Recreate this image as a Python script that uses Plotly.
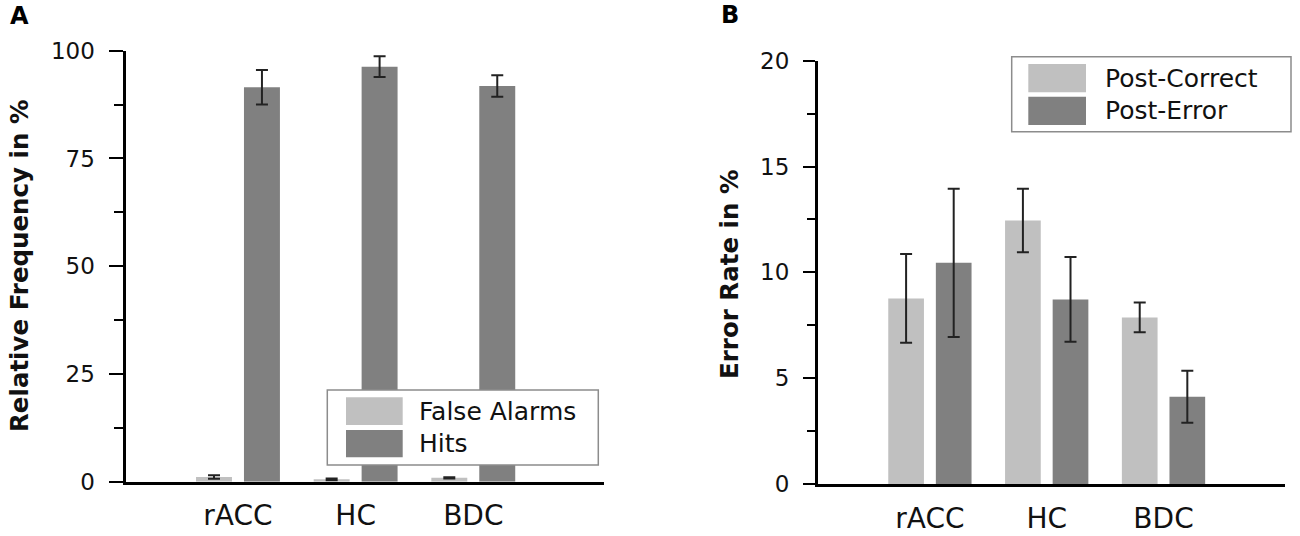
import plotly.graph_objects as go

W, H = 1300, 536

# ---------------- data ----------------
categories = ["rACC", "HC", "BDC"]

# Panel A
false_alarms = [1.1, 0.55, 0.9]
false_alarms_err = [0.4, 0.2, 0.15]
hits = [91.5, 96.3, 91.8]
hits_err = [4.0, 2.4, 2.5]
a_yticks = [0, 25, 50, 75, 100]

# Panel B
post_correct = [8.77, 12.45, 7.87]
post_correct_err = [2.1, 1.5, 0.7]
post_error = [10.45, 8.72, 4.12]
post_error_err = [3.5, 2.0, 1.23]
b_yticks = [0, 5, 10, 15, 20]

LIGHT = "#c0c0c0"
DARK = "#808080"
INK = "#111111"
FONT = "DejaVu Sans"


def px(x):
    return x / W


def py(y):
    return 1 - y / H


def err(arr):
    return dict(type="data", array=arr, color="#222222", thickness=2, width=6)


fig = go.Figure()

fig.add_trace(go.Bar(x=categories, y=false_alarms, error_y=err(false_alarms_err),
                     marker=dict(color=LIGHT, line=dict(width=0)), name="False Alarms",
                     xaxis="x", yaxis="y", showlegend=False))
fig.add_trace(go.Bar(x=categories, y=hits, error_y=err(hits_err),
                     marker=dict(color=DARK, line=dict(width=0)), name="Hits",
                     xaxis="x", yaxis="y", showlegend=False))
fig.add_trace(go.Bar(x=categories, y=post_correct, error_y=err(post_correct_err),
                     marker=dict(color=LIGHT, line=dict(width=0)), name="Post-Correct",
                     xaxis="x2", yaxis="y2", showlegend=False))
fig.add_trace(go.Bar(x=categories, y=post_error, error_y=err(post_error_err),
                     marker=dict(color=DARK, line=dict(width=0)), name="Post-Error",
                     xaxis="x2", yaxis="y2", showlegend=False))

xcommon = dict(type="category", showgrid=False, zeroline=False, showline=True,
               linecolor="black", linewidth=3, ticks="", ticklabelstandoff=7,
               tickfont=dict(family=FONT, size=28, color=INK), fixedrange=True)

ycommon = dict(showgrid=False, zeroline=False, showline=True, linecolor="black",
               linewidth=3, ticks="outside", tickwidth=2, tickcolor="black",
               tickfont=dict(family=FONT, size=23, color=INK), ticklabelstandoff=9,
               fixedrange=True)

fig.update_layout(
    width=W, height=H,
    margin=dict(l=0, r=0, t=0, b=0, autoexpand=False),
    paper_bgcolor="white", plot_bgcolor="white",
    barmode="group", bargap=0.185, bargroupgap=0.25,
    showlegend=False,
    xaxis=dict(domain=[px(125.5), px(604)], range=[-0.956, 3.111], anchor="y", **xcommon),
    yaxis=dict(domain=[py(481.7), py(50.7)], range=[0, 100], anchor="x",
               tickvals=a_yticks, ticklen=14,
               minor=dict(dtick=12.5, ticklen=9, tickwidth=2, tickcolor="black", ticks="outside"),
               **ycommon),
    xaxis2=dict(domain=[px(818), px(1285)], range=[-0.958, 3.04], anchor="y2", **xcommon),
    yaxis2=dict(domain=[py(484), py(60.7)], range=[0, 20], anchor="x2",
                tickvals=b_yticks, ticklen=12,
                minor=dict(dtick=2.5, ticklen=8, tickwidth=2, tickcolor="black", ticks="outside"),
                **ycommon),
)

shapes = []
annotations = []


def legend(box, swatches, labels, colors, text_x):
    x0, x1, y0, y1 = box
    shapes.append(dict(type="rect", xref="paper", yref="paper", layer="above",
                       x0=px(x0), x1=px(x1), y0=py(y1), y1=py(y0),
                       fillcolor="white", line=dict(color="#8c8c8c", width=1.5)))
    for (sx0, sx1, sy0, sy1), lab, col in zip(swatches, labels, colors):
        shapes.append(dict(type="rect", xref="paper", yref="paper", layer="above",
                           x0=px(sx0), x1=px(sx1), y0=py(sy1), y1=py(sy0),
                           fillcolor=col, line=dict(width=0)))
        annotations.append(dict(xref="paper", yref="paper", x=px(text_x), y=py((sy0 + sy1) / 2),
                                text=lab, showarrow=False, xanchor="left", yanchor="middle",
                                font=dict(family=FONT, size=25, color=INK)))


legend((327.3, 598.3, 390, 465),
       [(346, 402.7, 397.3, 425), (346, 402.7, 430, 457.3)],
       ["False Alarms", "Hits"], [LIGHT, DARK], 417)
legend((1011.7, 1291, 56.7, 131.7),
       [(1028.3, 1086, 64, 92.3), (1028.3, 1086, 96.7, 125)],
       ["Post-Correct", "Post-Error"], [LIGHT, DARK], 1103)

# axis titles
annotations.append(dict(xref="paper", yref="paper", x=px(20), y=py(266), text="Relative Frequency in %",
                        textangle=-90, showarrow=False, xanchor="center", yanchor="middle",
                        font=dict(family=FONT, size=24.5, color=INK, weight="bold")))
annotations.append(dict(xref="paper", yref="paper", x=px(729), y=py(274), text="Error Rate in %",
                        textangle=-90, showarrow=False, xanchor="center", yanchor="middle",
                        font=dict(family=FONT, size=24.5, color=INK, weight="bold")))
# panel labels
annotations.append(dict(xref="paper", yref="paper", x=px(19.5), y=py(16), text="A",
                        showarrow=False, xanchor="center", yanchor="middle",
                        font=dict(family=FONT, size=24, color="black", weight="bold")))
annotations.append(dict(xref="paper", yref="paper", x=px(730), y=py(15.5), text="B",
                        showarrow=False, xanchor="center", yanchor="middle",
                        font=dict(family=FONT, size=24, color="black", weight="bold")))

fig.update_layout(shapes=shapes, annotations=annotations)

fig.write_html(
    "out.html",
    config={"displayModeBar": False},
    post_script="document.body.style.margin='0';document.body.style.overflow='hidden';",
)
